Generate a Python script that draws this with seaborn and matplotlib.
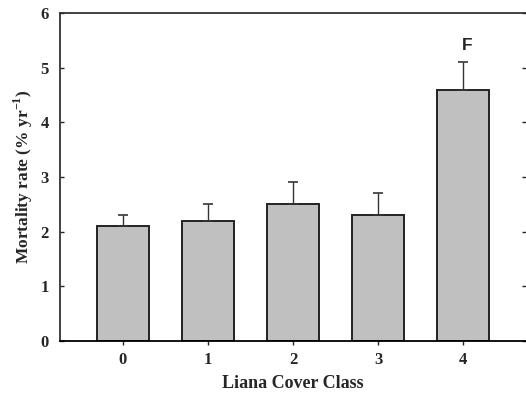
import matplotlib
matplotlib.use("Agg")
import matplotlib.pyplot as plt
import seaborn as sns
import pandas as pd

classes = ["0", "1", "2", "3", "4"]
mortality = [2.1, 2.2, 2.5, 2.3, 4.6]
upper_err = [0.2, 0.3, 0.4, 0.4, 0.5]

sns.set_style("white")
plt.rcParams['font.family'] = ['Liberation Serif', 'DejaVu Serif']
plt.rcParams['mathtext.fontset'] = 'custom'
plt.rcParams['mathtext.rm'] = 'Liberation Serif'
plt.rcParams['mathtext.bf'] = 'Liberation Serif:bold'

fig = plt.figure(figsize=(5.26, 3.98), dpi=100)
ax = fig.add_axes([0.114, 0.1432, 0.886, 0.8241])

df = pd.DataFrame({"cls": classes, "rate": mortality})
sns.barplot(data=df, x="cls", y="rate", color="#c0c0c0", edgecolor="#222222",
            linewidth=1.4, width=0.61, errorbar=None, saturation=1, ax=ax)
ax.errorbar(range(len(classes)), mortality, yerr=[[0]*len(classes), upper_err],
            fmt="none", ecolor="#333333", elinewidth=1.0, capsize=3.5, capthick=1.2)

ax.set_xlim(-0.74, 4.74)
ax.set_ylim(0, 6)
ax.set_yticks(range(0, 7))
for s in ["left", "top", "bottom"]:
    ax.spines[s].set_visible(True)
    ax.spines[s].set_color("#333333")
    ax.spines[s].set_linewidth(1.3)
ax.spines["bottom"].set_color("black")
ax.spines["right"].set_visible(False)
ax.tick_params(axis="y", which="both", left=True, right=True, direction="in",
               length=3, width=1, labelsize=12, pad=8)
ax.tick_params(axis="x", bottom=True, direction="out", length=3, width=1,
               labelsize=12, pad=5)
for lab in ax.get_xticklabels() + ax.get_yticklabels():
    lab.set_fontweight("bold")

ax.set_xlabel("Liana Cover Class", fontsize=13, fontweight="bold", labelpad=5)
ax.set_ylabel("Mortality rate (% yr$^{\\mathbf{-1}}$)", fontsize=12.5, fontweight="bold", labelpad=4)
ax.text(4.05, 5.41, "F", fontsize=12.5, fontweight="bold", family="Liberation Sans",
        ha="center", va="center")

fig.savefig("out.png", dpi=100)
